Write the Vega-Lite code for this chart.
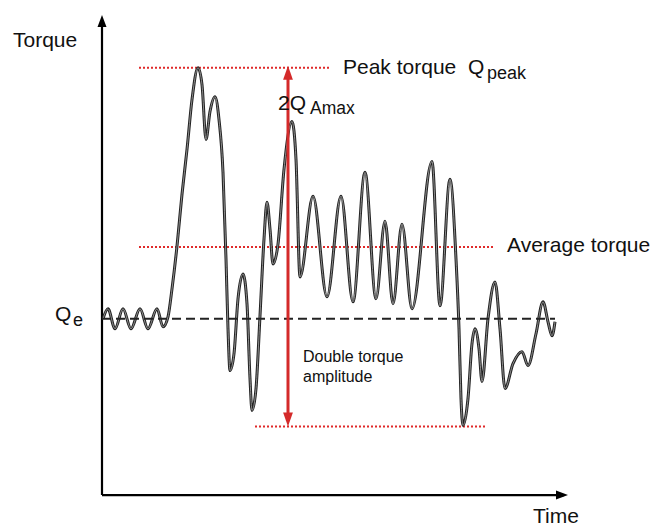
{
  "$schema": "https://vega.github.io/schema/vega-lite/v6.json",
  "width": 655,
  "height": 527,
  "padding": 0,
  "autosize": {"type": "fit", "contains": "padding"},
  "background": "white",
  "config": {"view": {"stroke": null}},
  "datasets": {
    "curve": [
      {"t":1,"q":177},{"t":6,"q":187},{"t":13,"q":167},{"t":21,"q":187},{"t":29,"q":167},{"t":38,"q":187},{"t":46,"q":167},{"t":55,"q":187},{"t":61,"q":169},{"t":66,"q":179},{"t":70,"q":207},{"t":75,"q":250},{"t":80,"q":302},{"t":85,"q":347},{"t":90,"q":397},{"t":96,"q":429},{"t":100,"q":412},{"t":104,"q":357},{"t":108,"q":385},{"t":113,"q":400},{"t":117,"q":377},{"t":121,"q":324},{"t":124,"q":237},{"t":126,"q":167},{"t":128,"q":125},{"t":132,"q":142},{"t":136,"q":197},{"t":141,"q":222},{"t":145,"q":192},{"t":148,"q":117},{"t":150,"q":85},{"t":154,"q":107},{"t":158,"q":180},{"t":162,"q":257},{"t":165,"q":294},{"t":168,"q":267},{"t":171,"q":232},{"t":176,"q":252},{"t":182,"q":327},{"t":190,"q":375},{"t":194,"q":337},{"t":198,"q":219},{"t":211,"q":300},{"t":225,"q":199},{"t":239,"q":300},{"t":251,"q":194},{"t":263,"q":324},{"t":274,"q":197},{"t":283,"q":275},{"t":291,"q":192},{"t":300,"q":272},{"t":310,"q":187},{"t":330,"q":335},{"t":338,"q":190},{"t":348,"q":317},{"t":354,"q":237},{"t":357,"q":167},{"t":359,"q":97},{"t":361,"q":70},{"t":366,"q":97},{"t":370,"q":152},{"t":373,"q":167},{"t":377,"q":147},{"t":380,"q":114},{"t":386,"q":177},{"t":393,"q":214},{"t":398,"q":167},{"t":403,"q":107},{"t":411,"q":132},{"t":420,"q":144},{"t":426,"q":130},{"t":434,"q":162},{"t":441,"q":194},{"t":446,"q":174},{"t":450,"q":160},{"t":453,"q":174}
    ]
  },
  "encoding": {
    "x": {"field": "t", "type": "quantitative", "axis": null, "scale": {"domain": [-102, 553], "zero": false, "nice": false}},
    "y": {"field": "q", "type": "quantitative", "axis": null, "scale": {"domain": [-30, 497], "zero": false, "nice": false}}
  },
  "layer": [
    {
      "data": {"values": [{"t": 0, "t2": 0, "q": 0, "q2": 470}, {"t": 0, "t2": 462, "q": 0, "q2": 0}]},
      "mark": {"type": "rule", "color": "black", "strokeWidth": 2.2},
      "encoding": {"x2": {"field": "t2"}, "y2": {"field": "q2"}}
    },
    {
      "data": {"values": [{"t": 0, "q": 476, "dir": "up"}]},
      "mark": {"type": "point", "filled": true, "color": "black", "opacity": 1, "size": 144, "shape": "M0,-1L0.75,1L-0.75,1Z"},
      "encoding": {}
    },
    {
      "data": {"values": [{"t": 460, "q": 0, "dir": "right"}]},
      "mark": {"type": "point", "filled": true, "color": "black", "opacity": 1, "size": 144, "shape": "M1,0L-1,-0.75L-1,0.75Z"},
      "encoding": {}
    },
    {
      "data": {"values": [{"t": 37, "t2": 228, "q": 429}, {"t": 37, "t2": 393, "q": 249}, {"t": 153, "t2": 385, "q": 69}]},
      "mark": {"type": "rule", "color": "#e02a2a", "strokeWidth": 2, "strokeDash": [2, 2]},
      "encoding": {"x2": {"field": "t2"}}
    },
    {
      "data": {"name": "curve"},
      "mark": {"type": "line", "color": "#222", "strokeWidth": 3, "interpolate": "monotone"},
      "encoding": {}
    },
    {
      "data": {"name": "curve"},
      "mark": {"type": "line", "color": "#9a9a9a", "strokeWidth": 0.9, "interpolate": "monotone"},
      "encoding": {}
    },
    {
      "data": {"values": [{"t": 0, "t2": 453, "q": 177}]},
      "mark": {"type": "rule", "color": "#222", "strokeWidth": 2, "strokeDash": [9, 5]},
      "encoding": {"x2": {"field": "t2"}}
    },
    {
      "data": {"values": [{"t": 186, "q": 78, "q2": 420}]},
      "mark": {"type": "rule", "color": "#d42a2a", "strokeWidth": 3},
      "encoding": {"y2": {"field": "q2"}}
    },
    {
      "data": {"values": [{"t": 186, "q": 424}]},
      "mark": {"type": "point", "filled": true, "color": "#d42a2a", "opacity": 1, "size": 196, "shape": "M0,-1L0.7,1L-0.7,1Z"},
      "encoding": {}
    },
    {
      "data": {"values": [{"t": 186, "q": 76}]},
      "mark": {"type": "point", "filled": true, "color": "#d42a2a", "opacity": 1, "size": 196, "shape": "M0,1L0.7,-1L-0.7,-1Z"},
      "encoding": {}
    },
    {
      "data": {"values": [
        {"t": -89, "q": 450, "label": "Torque"},
        {"t": 241, "q": 423, "label": "Peak torque"},
        {"t": 366, "q": 423, "label": "Q"},
        {"t": 405, "q": 244, "label": "Average torque"},
        {"t": -47, "q": 175, "label": "Q"},
        {"t": 431, "q": -28, "label": "Time"}
      ]},
      "mark": {"type": "text", "align": "left", "baseline": "alphabetic", "font": "Liberation Sans", "fontSize": 21, "color": "#111"},
      "encoding": {"text": {"field": "label"}}
    },
    {
      "data": {"values": [
        {"t": 385, "q": 418, "label": "peak"},
        {"t": -29, "q": 170, "label": "e"}
      ]},
      "mark": {"type": "text", "align": "left", "baseline": "alphabetic", "font": "Liberation Sans", "fontSize": 18, "color": "#111"},
      "encoding": {"text": {"field": "label"}}
    },
    {
      "data": {"values": [{"t": 176, "q": 387, "label": "2Q"}]},
      "mark": {"type": "text", "align": "left", "baseline": "alphabetic", "font": "Liberation Sans", "fontSize": 21, "color": "#111"},
      "encoding": {"text": {"field": "label"}}
    },
    {
      "data": {"values": [{"t": 208, "q": 383, "label": "Amax"}]},
      "mark": {"type": "text", "align": "left", "baseline": "alphabetic", "font": "Liberation Sans", "fontSize": 17.5, "color": "#111"},
      "encoding": {"text": {"field": "label"}}
    },
    {
      "data": {"values": [
        {"t": 201, "q": 134, "label": "Double torque"},
        {"t": 201, "q": 114, "label": "amplitude"}
      ]},
      "mark": {"type": "text", "align": "left", "baseline": "alphabetic", "font": "Liberation Sans", "fontSize": 16, "color": "#111"},
      "encoding": {"text": {"field": "label"}}
    }
  ]
}
